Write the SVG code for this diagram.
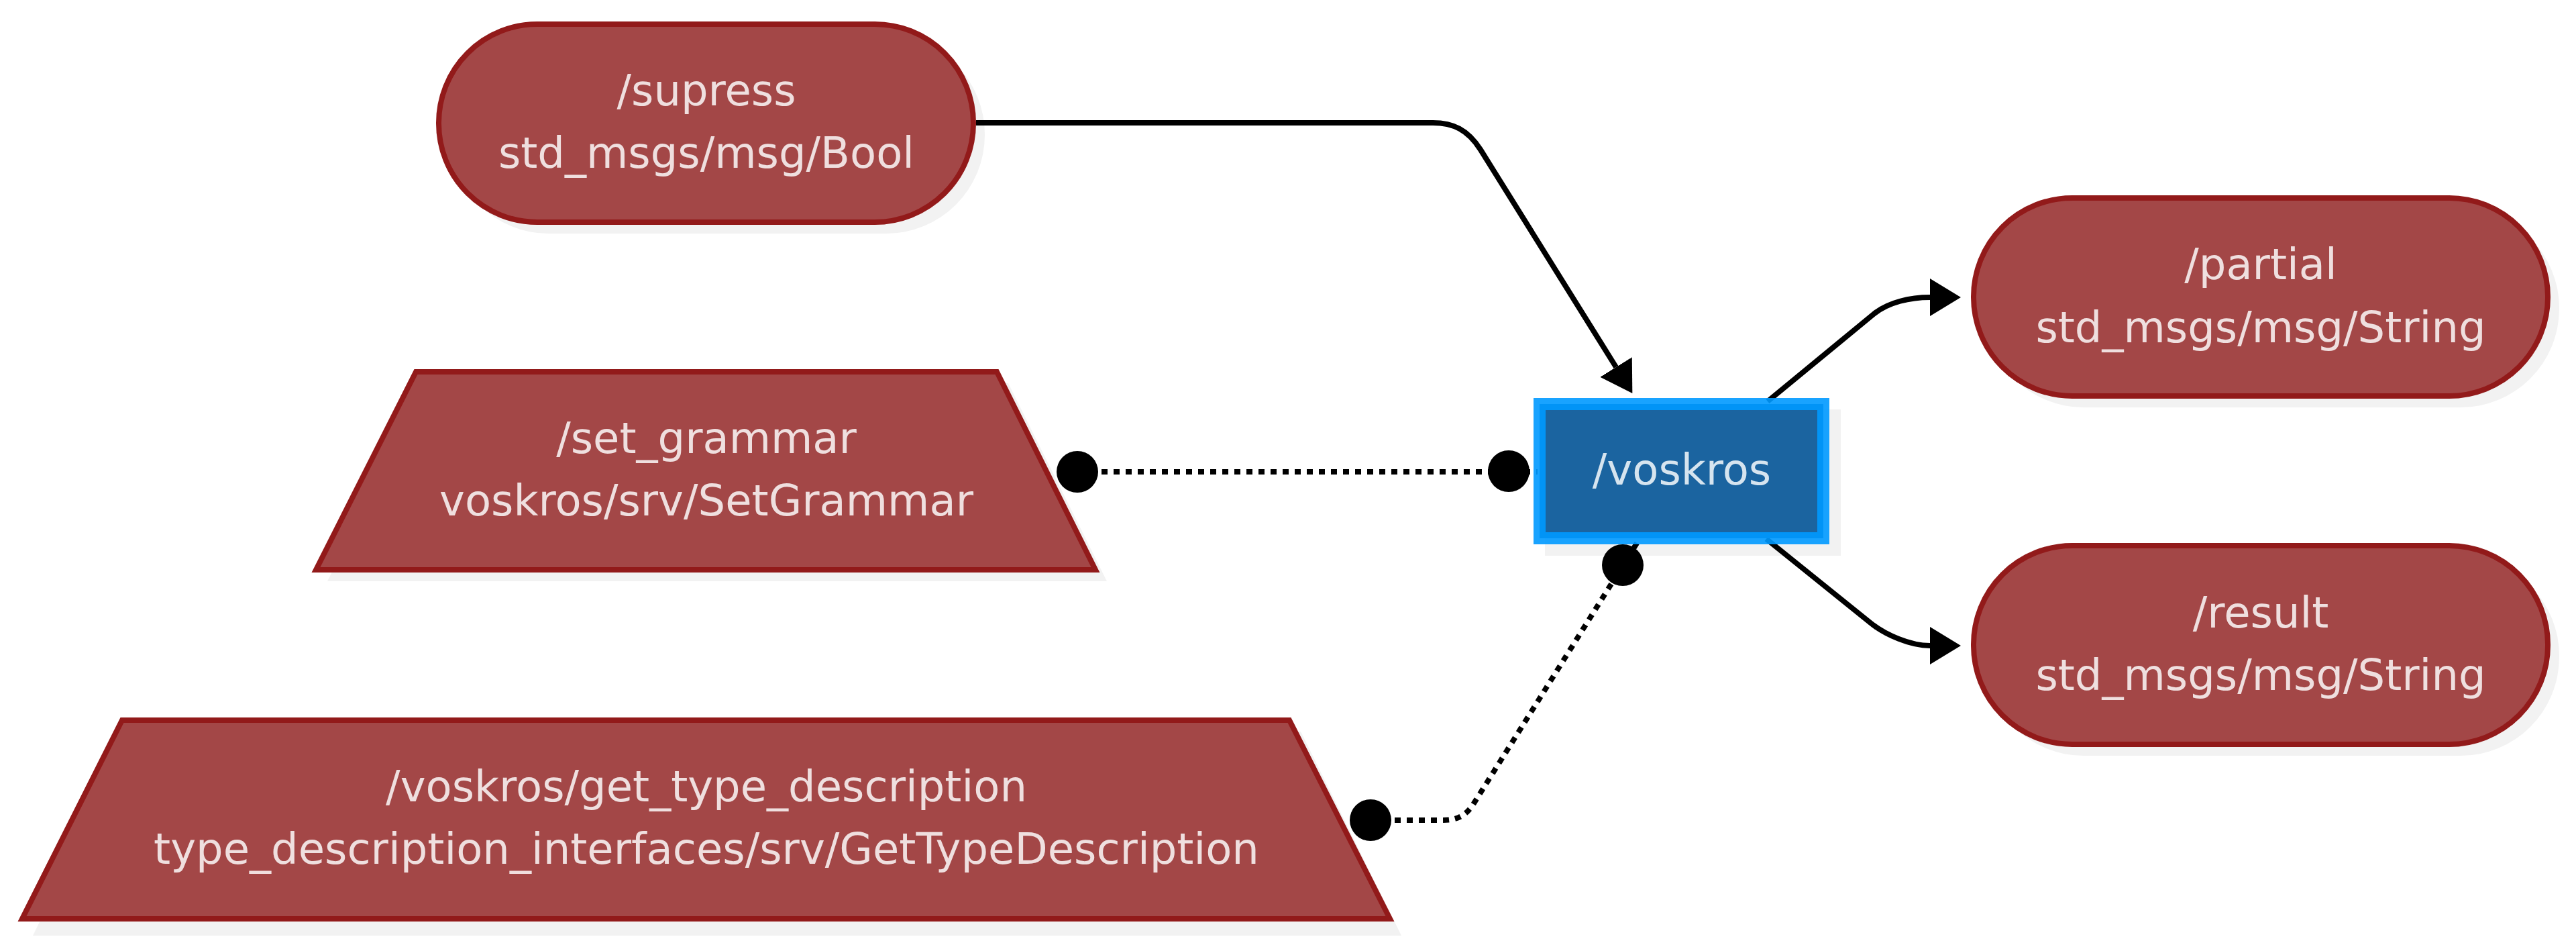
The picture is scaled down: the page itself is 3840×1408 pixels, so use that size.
<svg xmlns="http://www.w3.org/2000/svg" width="3840" height="1408" viewBox="0 0 3840 1408">
<style>
.bg{fill:#ffffff}
.shadow{fill:#f2f2f2;stroke:none}
.topic{fill:#a34747;stroke:#921a1a;stroke-width:8}
.svc{fill:#a34747;stroke:#921a1a;stroke-width:8;stroke-linejoin:miter}
.node{fill:#1b64a0;stroke:#0099ff;stroke-opacity:0.9;stroke-width:18}
.lbl{font-family:"DejaVu Sans","Liberation Sans",sans-serif;font-size:64px;text-anchor:middle;fill:#efdfdf}
.nlbl{font-family:"DejaVu Sans","Liberation Sans",sans-serif;font-size:64px;text-anchor:middle;fill:#d6e4ef}
.edge{fill:none;stroke:#000;stroke-width:8}
.dot{fill:none;stroke:#000;stroke-width:8;stroke-dasharray:9 9}
.end{fill:#000}
</style>
<defs>
<marker id="arrow" markerUnits="userSpaceOnUse" markerWidth="48" markerHeight="58" refX="0" refY="28" orient="auto" viewBox="0 0 48 58">
<path d="M0,0 L46,28 L0,56 Z" fill="#000"/>
</marker>
</defs>
<rect class="bg" x="0" y="0" width="3840" height="1408"/>

<g id="shadows">
<rect class="shadow" x="671" y="53" width="797" height="295" rx="147" ry="147"/>
<polygon class="shadow" points="638,571 1503,571 1650,866 488,866"/>
<polygon class="shadow" points="199,1090 1939,1090 2089,1394 49,1394"/>
<rect class="shadow" x="2303" y="610" width="441" height="218"/>
<rect class="shadow" x="2959" y="312" width="856" height="295" rx="147" ry="147"/>
<rect class="shadow" x="2959" y="830" width="856" height="296" rx="147" ry="147"/>
</g>

<g id="connectors">
<path class="edge" d="M1455,183 L2136,183 C2166,183 2188,193 2207,223 L2409,547" marker-end="url(#arrow)"/>
<path class="edge" d="M2635,598 L2793,468 C2815,450 2848,443 2877,443" marker-end="url(#arrow)"/>
<path class="edge" d="M2633,803 L2787,927 C2810,946 2848,962 2877,962" marker-end="url(#arrow)"/>
<path class="dot" d="M1606,703 L2292,703"/>
<circle class="end" cx="1606" cy="703" r="31"/>
<circle class="end" cx="2249" cy="702" r="31"/>
<path class="dot" d="M2043,1222 L2150,1222 C2172,1222 2185,1216 2197,1197 L2444,803"/>
<circle class="end" cx="2043" cy="1222" r="31"/>
<circle class="end" cx="2419" cy="842" r="31"/>
</g>

<g id="supress">
<rect class="topic" x="654" y="36" width="797" height="295" rx="147" ry="147"/>
<text class="lbl" x="1053" y="157">/supress</text>
<text class="lbl" x="1053" y="250">std_msgs/msg/Bool</text>
</g>

<g id="set_grammar">
<polygon class="svc" points="620,554 1486,554 1633,849 471,849"/>
<text class="lbl" x="1053" y="675">/set_grammar</text>
<text class="lbl" x="1053" y="768">voskros/srv/SetGrammar</text>
</g>

<g id="get_type_description">
<polygon class="svc" points="182,1073 1922,1073 2072,1369 33,1369"/>
<text class="lbl" x="1053" y="1194">/voskros/get_type_description</text>
<text class="lbl" x="1053" y="1287">type_description_interfaces/srv/GetTypeDescription</text>
</g>

<g id="voskros">
<rect class="node" x="2295" y="602" width="423" height="200"/>
<text class="nlbl" x="2507" y="722">/voskros</text>
</g>

<g id="partial">
<rect class="topic" x="2942" y="295" width="856" height="295" rx="147" ry="147"/>
<text class="lbl" x="3370" y="416">/partial</text>
<text class="lbl" x="3370" y="510">std_msgs/msg/String</text>
</g>

<g id="result">
<rect class="topic" x="2942" y="813" width="856" height="296" rx="147" ry="147"/>
<text class="lbl" x="3370" y="935">/result</text>
<text class="lbl" x="3370" y="1028">std_msgs/msg/String</text>
</g>
</svg>
